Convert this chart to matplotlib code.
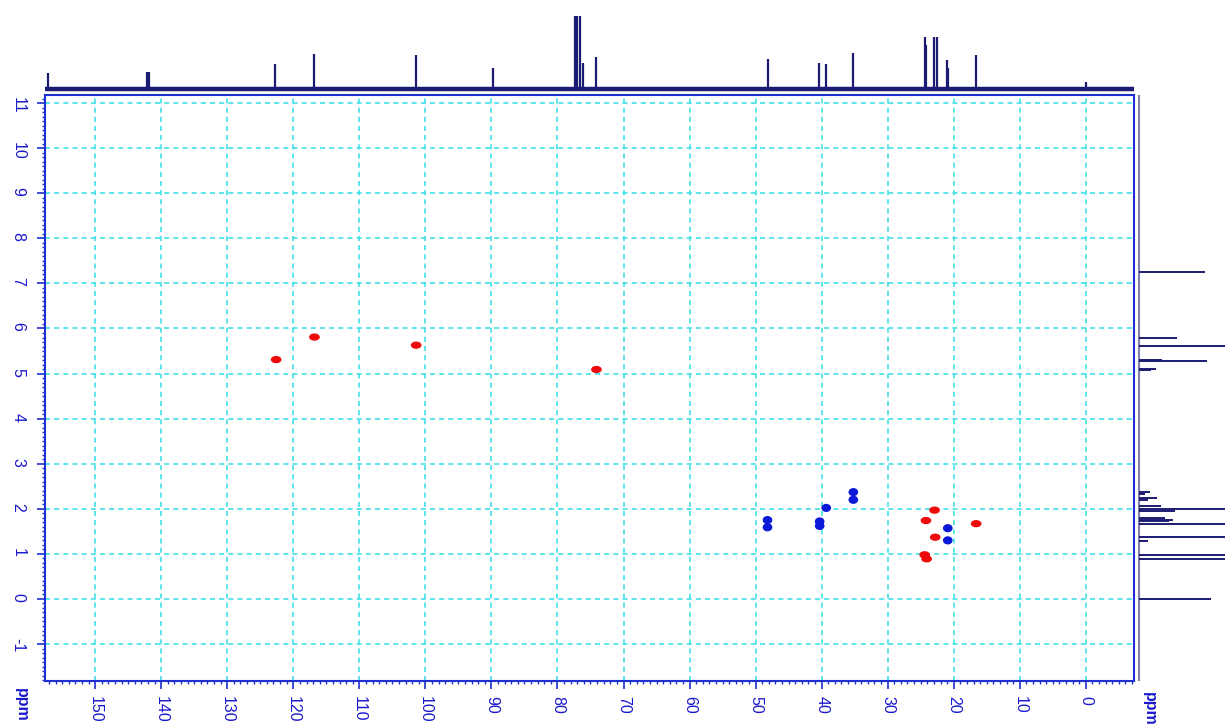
import matplotlib.pyplot as plt
import numpy as np
from matplotlib.patches import Ellipse
from matplotlib.ticker import MultipleLocator

plt.rcParams["axes.unicode_minus"] = False

# HSQC cross peaks (13C ppm, 1H ppm)
red_c = [122.6, 116.8, 101.4, 74.1, 22.9, 24.2, 16.6, 22.8, 24.4, 24.1]
red_h = [5.31, 5.81, 5.63, 5.09, 1.97, 1.74, 1.67, 1.37, 0.98, 0.89]
blue_c = [48.2, 48.2, 40.3, 40.3, 39.3, 35.2, 35.2, 20.9, 20.9]
blue_h = [1.75, 1.59, 1.72, 1.62, 2.02, 2.37, 2.20, 1.57, 1.30]

# 13C 1D projection (top): peak positions and heights
c13_ppm = [157.1, 142.2, 141.9, 122.7, 116.8, 101.4, 89.7, 77.4, 77.0, 76.6,
           76.1, 74.1, 48.1, 40.4, 39.3, 35.2, 24.4, 24.2, 23.0, 22.6, 21.0,
           20.8, 16.6, 0.0]
c13_int = [16, 17, 17, 25, 35, 34, 21, 73, 73, 73, 26, 32, 30, 26, 25, 36,
           52, 44, 52, 52, 29, 21, 34, 7]

# 1H 1D projection (right): peak positions and heights
h1_ppm = [7.26, 5.80, 5.62, 5.30, 5.28, 5.10, 5.08, 2.38, 2.33, 2.24, 2.20,
          2.06, 2.00, 1.95, 1.80, 1.75, 1.72, 1.66, 1.38, 1.29, 0.98, 0.88,
          0.0]
h1_int = [66, 38, 120, 23, 68, 17, 12, 11, 6, 18, 9, 22, 120, 36, 26, 34,
          30, 120, 120, 9, 120, 120, 72]

navy = "#1b1b73"
blue = "#1f2fd0"
label_blue = "#1a1acc"
grid_cyan = "#3fe0e6"
font = ["Liberation Sans", "DejaVu Sans"]

fig = plt.figure(figsize=(12.25, 7.24), dpi=100)

ax = fig.add_axes([45 / 1225, 43 / 724, 1089 / 1225, 586 / 724])
ax.set_xlim(157.6, -7.3)
ax.set_ylim(-1.82, 11.18)
ax.xaxis.set_major_locator(MultipleLocator(10))
ax.xaxis.set_minor_locator(MultipleLocator(1))
ax.yaxis.set_major_locator(MultipleLocator(1))
ax.yaxis.set_minor_locator(MultipleLocator(0.1))
ax.grid(True, which="major", color=grid_cyan, linestyle=(0, (3, 2.5)), lw=1.2)
ax.set_axisbelow(True)
for s in ax.spines.values():
    s.set_color(blue)
    s.set_linewidth(1.5)
ax.tick_params(which="major", direction="out", length=6, width=1.2,
               color=blue, labelcolor=label_blue, labelsize=11.5,
               labelrotation=-90, pad=5)
ax.tick_params(which="minor", direction="out", length=2.5, width=1,
               color=blue)
ax.tick_params(axis="y", pad=8)
for lab in ax.get_xticklabels() + ax.get_yticklabels():
    lab.set_family(font)
for lab in ax.get_xticklabels():
    lab.set_va("top")
for lab in ax.get_yticklabels():
    lab.set_ha("right")

for c, h in zip(red_c, red_h):
    ax.add_patch(Ellipse((c, h), 1.4, 0.13, color="#ee0a0a", zorder=3))
for c, h in zip(blue_c, blue_h):
    ax.add_patch(Ellipse((c, h), 1.25, 0.15, color="#0a18d8", zorder=3))

# top 13C projection
axt = fig.add_axes([45 / 1225, 629 / 724, 1089 / 1225, 95 / 724])
axt.set_xlim(157.6, -7.3)
axt.set_ylim(-6, 89)
axt.axis("off")
axt.axhline(0, color=navy, lw=3.2)
axt.vlines(c13_ppm, 0, c13_int, color=navy, lw=1.6)

# right 1H projection
axr = fig.add_axes([1134 / 1225, 43 / 724, 91 / 1225, 586 / 724])
axr.set_xlim(-5, 86)
axr.set_ylim(-1.82, 11.18)
axr.axis("off")
axr.axvline(0, color="#8080a8", lw=1.5)
axr.hlines(h1_ppm, 0, h1_int, color=navy, lw=1.4)

fig.text(14 / 1225, 1 - 688 / 724, "ppm", rotation=-90, color=label_blue,
         fontsize=11.5, family=font, fontweight="bold", ha="left", va="top")
fig.text(1142 / 1225, 1 - 692 / 724, "ppm", rotation=-90, color=label_blue,
         fontsize=11.5, family=font, fontweight="bold", ha="left", va="top")

fig.savefig("out.png", dpi=100)
